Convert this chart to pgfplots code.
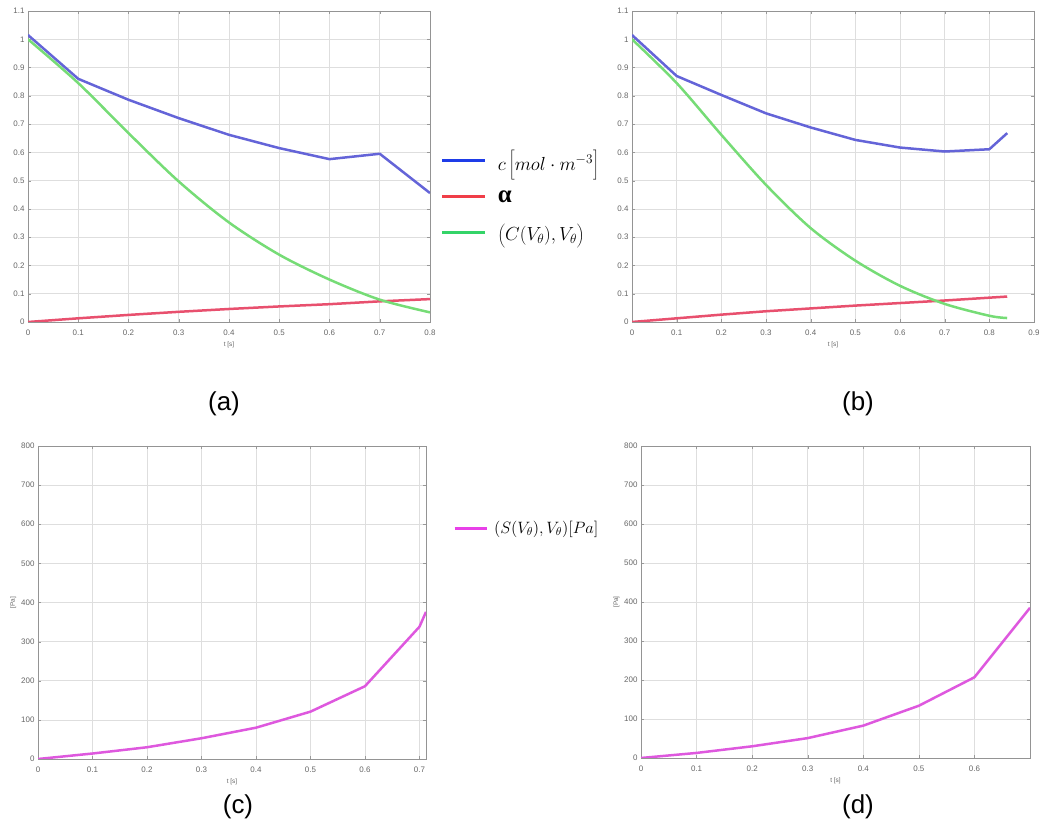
\documentclass[border=0pt]{standalone}
\usepackage{fix-cm}
\usepackage{fontspec}
\setmainfont{Liberation Sans}
\newfontfamily\greekserif{Liberation Serif}
\usepackage{pgfplots}
\pgfplotsset{compat=1.18}

\definecolor{cline}{RGB}{100,100,216}
\definecolor{aline}{RGB}{232,80,110}
\definecolor{gline}{RGB}{118,220,118}
\definecolor{sline}{RGB}{222,88,222}
\definecolor{cleg}{RGB}{30,60,232}
\definecolor{aleg}{RGB}{240,62,72}
\definecolor{gleg}{RGB}{52,212,104}
\definecolor{sleg}{RGB}{232,64,232}

\pgfplotsset{
  panel/.style={
    scale only axis,
    anchor=south west,
    xmin=0, ymin=0,
    axis line style={draw=black!42, line width=0.9bp},
    grid=major,
    major grid style={draw=black!13, line width=0.7bp},
    tick style={draw=black!40},
    major tick length=3bp,
    tick align=inside,
    ticklabel style={font=\fontsize{8}{9}\selectfont, text=black!60},
    /pgf/number format/assume math mode=true,
    /pgf/number format/fixed,
    scaled ticks=false,
    xticklabel style={yshift=-4bp},
    yticklabel style={xshift=0bp},
    xlabel={t [s]},
    xlabel style={font=\fontsize{6.5}{7}\selectfont, text=black!60, yshift=0bp},
    ylabel style={font=\fontsize{6.5}{7}\selectfont, text=black!60},
    every axis plot/.append style={line width=2.5bp, line join=round},
  },
}

\begin{document}
\begin{tikzpicture}
\useasboundingbox (0bp,0bp) rectangle (1047bp,836bp);

% (a) concentration, alpha and C(V)
\begin{axis}[panel,
  at={(28bp,514bp)}, width=402bp, height=311bp,
  xmax=0.8, ymax=1.1,
  xtick={0,0.1,...,0.8}, ytick={0,0.1,...,1.1},
  legend image code/.code={\draw[#1] (0bp,0bp) -- (43bp,0bp);},
  legend cell align=left,
  legend style={at={(1.027,0.402)}, anchor=west, draw=none, fill=none,
    inner sep=0pt, outer sep=0pt, column sep=11bp, row sep=0pt,
    font=\fontsize{19}{21}\selectfont,
    nodes={inner sep=0pt, minimum height=36bp}},
]
\addlegendimage{cleg, line width=3bp}
\addlegendentry{$c\left[\rule[-9bp]{0pt}{27bp}mol\cdot m^{-3}\right]$}
\addlegendimage{aleg, line width=3bp}
\addlegendentry{{\greekserif\bfseries\fontsize{25}{25}\selectfont α}}
\addlegendimage{gleg, line width=3bp}
\addlegendentry{$\left(\rule[-6bp]{0pt}{21bp}C(V_\theta),V_\theta\right)$}
\addplot[cline, forget plot] coordinates {
  (0,1.015) (0.1,0.86) (0.2,0.786) (0.3,0.721) (0.4,0.662)
  (0.5,0.615) (0.6,0.576) (0.7,0.595) (0.8,0.456)};
\addplot[aline, forget plot] coordinates {
  (0,0) (0.1,0.013) (0.2,0.025) (0.3,0.036) (0.4,0.046)
  (0.5,0.055) (0.6,0.063) (0.7,0.073) (0.8,0.081)};
\addplot[gline, smooth, forget plot] coordinates {
  (0,1.0) (0.1,0.845) (0.2,0.668) (0.3,0.497) (0.4,0.352)
  (0.5,0.238) (0.6,0.150) (0.7,0.079) (0.8,0.034)};
\end{axis}

% (b) the same quantities on a longer run
\begin{axis}[panel,
  at={(632bp,514bp)}, width=402bp, height=311bp,
  xmax=0.9, ymax=1.1,
  xtick={0,0.1,...,0.9}, ytick={0,0.1,...,1.1},
]
\addplot[cline] coordinates {
  (0,1.015) (0.1,0.870) (0.2,0.803) (0.3,0.738) (0.4,0.688)
  (0.5,0.644) (0.6,0.617) (0.7,0.603) (0.8,0.611) (0.84,0.668)};
\addplot[aline] coordinates {
  (0,0) (0.1,0.013) (0.2,0.026) (0.3,0.038) (0.4,0.048)
  (0.5,0.058) (0.6,0.067) (0.7,0.076) (0.8,0.086) (0.84,0.090)};
\addplot[gline, smooth] coordinates {
  (0,1.0) (0.1,0.845) (0.2,0.662) (0.3,0.485) (0.4,0.332)
  (0.5,0.217) (0.6,0.128) (0.7,0.064) (0.8,0.022) (0.84,0.014)};
\end{axis}

% (c) pressure S(V)
\begin{axis}[panel,
  at={(38bp,77bp)}, width=388bp, height=313bp,
  xmax=0.712, ymax=800,
  xtick={0,0.1,...,0.7}, ytick={0,100,...,800},
  ylabel={[Pa]}, ylabel style={yshift=-2bp},
  legend image code/.code={\draw[#1] (0bp,0bp) -- (32bp,0bp);},
  legend cell align=left,
  legend style={at={(1.0696,0.738)}, anchor=west, draw=none, fill=none,
    inner sep=0pt, outer sep=0pt, column sep=6bp,
    font=\fontsize{16.5}{18}\selectfont,
    nodes={inner sep=0pt}},
]
\addlegendimage{sleg, line width=3bp}
\addlegendentry{$\left(\rule[-4bp]{0pt}{16bp}S(V_\theta),V_\theta\right)\![Pa]$}
\addplot[sline, forget plot] coordinates {
  (0,0) (0.1,14) (0.2,30) (0.3,53) (0.4,80) (0.5,121)
  (0.6,186) (0.65,262) (0.7,338) (0.712,376)};
\end{axis}

% (d) pressure S(V) on the second run
\begin{axis}[panel,
  at={(641bp,78bp)}, width=389bp, height=312bp,
  xmax=0.7, ymax=800,
  xtick={0,0.1,...,0.6}, ytick={0,100,...,800},
  ylabel={[Pa]}, ylabel style={yshift=-2bp},
]
\addplot[sline] coordinates {
  (0,0) (0.1,13) (0.2,30) (0.3,51) (0.4,83) (0.5,134)
  (0.6,207) (0.7,385)};
\end{axis}

\node[font=\fontsize{26}{26}\selectfont] at (224bp,432bp) {(a)};
\node[font=\fontsize{26}{26}\selectfont] at (858bp,432bp) {(b)};
\node[font=\fontsize{26}{26}\selectfont] at (238bp,29bp) {(c)};
\node[font=\fontsize{26}{26}\selectfont] at (858bp,29bp) {(d)};
\end{tikzpicture}
\end{document}
